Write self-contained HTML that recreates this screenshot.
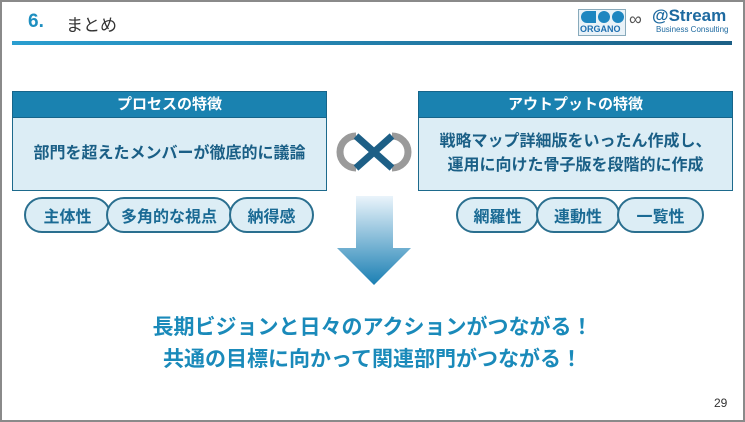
<!DOCTYPE html>
<html><head><meta charset="utf-8"><style>
*{margin:0;padding:0;box-sizing:border-box}
body{width:745px;height:422px;background:#fff;position:relative;overflow:hidden;font-family:"Liberation Sans","Noto Sans CJK JP",sans-serif}
.frame{position:absolute;left:0;top:0;width:745px;height:422px;border:2px solid #8a8a8a}
.a{position:absolute}
.hd{background:#1a82b0;color:#fff;font-weight:bold;font-size:15px;text-align:center;line-height:26px;border:1px solid #16658a}
.bd{background:#dcedf5;border:1px solid #1d6a8c;border-top:none;color:#1a5f86;font-weight:bold;font-size:16px;display:flex;align-items:center;justify-content:center;text-align:center;line-height:24px}
.pill{position:absolute;top:197px;height:36px;border:2px solid #2a6f8f;border-radius:18px;background:#dcedf5;color:#1a6a94;font-weight:bold;font-size:16px;display:flex;align-items:center;justify-content:center}
.big{position:absolute;left:0;width:745px;text-align:center;color:#1a8aba;font-weight:bold;font-size:21px}
</style></head><body>
<div class="frame"></div>
<div class="a" style="left:28px;top:11px;color:#1e8fc0;font-weight:bold;font-size:19px">6.</div>
<div class="a" style="left:66px;top:11px;color:#333;font-size:17px">まとめ</div>
<div class="a" style="left:12px;top:41px;width:720px;height:4px;background:linear-gradient(90deg,#2a9ed0,#1c5f85)"></div>
<!-- logo -->
<div class="a" style="left:578px;top:9px;width:48px;height:27px;background:#e9f2f8;border:1px solid #8ab"></div>
<div class="a" style="left:581px;top:11px;width:15px;height:12px;background:#1e86c0;border-radius:7px 0 0 7px"></div>
<div class="a" style="left:598px;top:11px;width:12px;height:12px;background:#1e86c0;border-radius:50%"></div>
<div class="a" style="left:612px;top:11px;width:12px;height:12px;background:#1e86c0;border-radius:50%"></div>
<div class="a" style="left:580px;top:24px;font-size:9px;color:#1e6fb0;font-weight:bold">ORGANO</div>
<div class="a" style="left:629px;top:9px;font-size:18px;color:#555">∞</div>
<div class="a" style="left:652px;top:6px;font-size:17px;color:#1e6aa0;font-weight:bold">@Stream</div>
<div class="a" style="left:656px;top:25px;font-size:8px;color:#1e6aa0">Business Consulting</div>
<!-- boxes -->
<div class="a hd" style="left:12px;top:91px;width:315px;height:27px">プロセスの特徴</div>
<div class="a bd" style="left:12px;top:118px;width:315px;height:73px">部門を超えたメンバーが徹底的に議論</div>
<div class="a hd" style="left:418px;top:91px;width:315px;height:27px">アウトプットの特徴</div>
<div class="a bd" style="left:418px;top:118px;width:315px;height:73px">戦略マップ詳細版をいったん作成し、<br>運用に向けた骨子版を段階的に作成</div>
<!-- infinity -->
<svg class="a" style="left:334px;top:128px" width="80" height="48" viewBox="0 0 80 48">
<path d="M22 8 A16 16 0 1 0 22 40" fill="none" stroke="#9a9a9a" stroke-width="7"/>
<path d="M58 8 A16 16 0 1 1 58 40" fill="none" stroke="#9a9a9a" stroke-width="7"/>
<path d="M22 8 L58 40 M22 40 L58 8" stroke="#1d5f86" stroke-width="7"/>
</svg>
<!-- pills -->
<div class="pill" style="left:24px;width:87px">主体性</div>
<div class="pill" style="left:106px;width:126px">多角的な視点</div>
<div class="pill" style="left:229px;width:85px">納得感</div>
<div class="pill" style="left:456px;width:83px">網羅性</div>
<div class="pill" style="left:536px;width:84px">連動性</div>
<div class="pill" style="left:617px;width:87px">一覧性</div>
<!-- arrow -->
<svg class="a" style="left:336px;top:196px" width="76" height="90">
<defs><linearGradient id="g" x1="0" y1="0" x2="0" y2="1"><stop offset="0" stop-color="#eaf4fb"/><stop offset="1" stop-color="#1a7fb3"/></linearGradient></defs>
<path d="M20 0 H57 V52 H75 L38 89 L1 52 H20 Z" fill="url(#g)"/>
</svg>
<div class="big" style="top:311px">長期ビジョンと日々のアクションがつながる！</div>
<div class="big" style="top:343px">共通の目標に向かって関連部門がつながる！</div>
<div class="a" style="left:714px;top:396px;font-size:12px;color:#333">29</div>
</body></html>
